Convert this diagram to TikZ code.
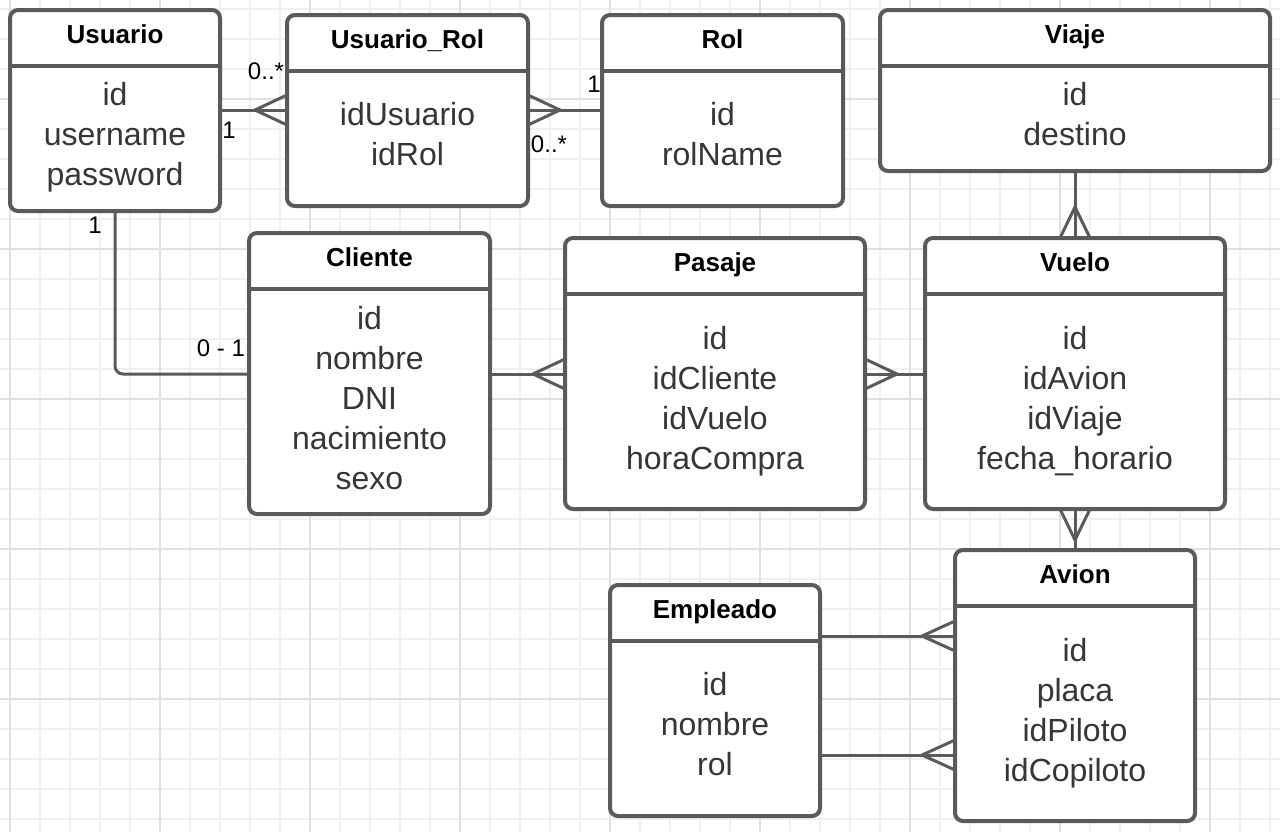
\documentclass[tikz,border=0pt]{standalone}
\usepackage{fontspec}
\setmainfont{Liberation Sans}
\usepackage{xcolor}
\usetikzlibrary{calc}

\definecolor{boxgray}{HTML}{5A5A5A}
\definecolor{txtgray}{HTML}{363636}
\definecolor{gridminor}{HTML}{F0F0F0}
\definecolor{gridmajor}{HTML}{E0E0E0}

\begin{document}
\begin{tikzpicture}[x=0.5pt,y=-0.5pt,
    entity/.style={draw=boxgray,line width=2pt,rounded corners=4pt,fill=white,anchor=north west,inner sep=0pt,outer sep=0pt},
    enttitle/.style={font=\bfseries\fontsize{13}{15}\selectfont,text=black,inner sep=0pt,anchor=base},
    attr/.style={font=\fontsize{16}{20}\selectfont,text=txtgray,anchor=base,inner sep=0pt},
    card/.style={font=\fontsize{12}{14}\selectfont,text=black,inner sep=0pt},
    rel/.style={draw=boxgray,line width=1.5pt},
    gridline/.style={draw=gridminor,line width=0.6pt},
    gridbold/.style={draw=gridmajor,line width=0.7pt}]
    \useasboundingbox (0,0) rectangle (1280,832);
    \fill[white] (0,0) rectangle (1280,832);
    % hoja cuadriculada
    \foreach \gx in {10,40,...,1270} \draw[gridline] (\gx,0) -- (\gx,832);
    \foreach \gy in {9,39,...,819} \draw[gridline] (0,\gy) -- (1280,\gy);
    \foreach \gx in {10,160,...,1210} \draw[gridbold] (\gx,0) -- (\gx,832);
    \foreach \gy in {99,249,...,699} \draw[gridbold] (0,\gy) -- (1280,\gy);
    % tablas: nombre/x/y/ancho/alto/titulo/base/campos
    \foreach \nm/\x/\y/\w/\h/\ttl/\b/\campos in {
        usuario/10/10/210/201/Usuario/95/{id,username,password},
        usurol/287/15/241/191/Usuario\_Rol/110/{idUsuario,idRol},
        rol/602/15/241/191/Rol/110/{id,rolName},
        viaje/880/10/390/161/Viaje/95/{id,destino},
        cliente/249/233/241/281/Cliente/96/{id,nombre,DNI,nacimiento,sexo},
        pasaje/565/238/300/271/Pasaje/111/{id,idCliente,idVuelo,horaCompra},
        vuelo/925/238/300/271/Vuelo/111/{id,idAvion,idViaje,fecha\_horario},
        avion/955/550/240/271/Avion/111/{id,placa,idPiloto,idCopiloto},
        empleado/610/585/210/231/Empleado/110/{id,nombre,rol}}{
        \node[entity,minimum width=\w*0.5pt,minimum height=\h*0.5pt] (\nm) at (\x,\y) {};
        \draw[draw=boxgray,line width=2pt] (\nm.west |- 0,\y+56) -- (\nm.east |- 0,\y+56);
        \node[enttitle] (\nm-t) at (\x+\w/2,\y+33) {\ttl};
        \foreach \c [count=\i] in \campos
            \node[attr] (\nm-\i) at (\x+\w/2,\y+\b+40*\i-40) {\c};
    }
    % relaciones
    \draw[rel] (usuario.east |- 0,110) -- (usurol.west |- 0,110);
    \draw[rel] (usurol.west |- 0,95) -- ++(-32,15) -- ++(32,15);
    \draw[rel] (usurol.east |- 0,110) -- (rol.west |- 0,110);
    \draw[rel] (usurol.east |- 0,95) -- ++(32,15) -- ++(-32,15);
    \draw[rel,rounded corners=4pt] (usuario.south) |- (cliente.west |- 0,374);
    \draw[rel] (cliente.east |- 0,374) -- (pasaje.west |- 0,374);
    \draw[rel] (pasaje.west |- 0,359) -- ++(-32,15) -- ++(32,15);
    \draw[rel] (pasaje.east |- 0,374) -- (vuelo.west |- 0,374);
    \draw[rel] (pasaje.east |- 0,359) -- ++(32,15) -- ++(-32,15);
    \draw[rel] (viaje.south) -- (vuelo.north);
    \draw[rel] (vuelo.north -| 1060,0) -- ++(15,-31) -- ++(15,31);
    \draw[rel] (vuelo.south) -- (avion.north);
    \draw[rel] (vuelo.south -| 1060,0) -- ++(15,31) -- ++(15,-31);
    \draw[rel] (empleado.east |- 0,636) -- (avion.west |- 0,636);
    \draw[rel] (avion.west |- 0,621) -- ++(-33,15) -- ++(33,15);
    \draw[rel] (empleado.east |- 0,755) -- (avion.west |- 0,755);
    \draw[rel] (avion.west |- 0,740) -- ++(-33,15) -- ++(33,15);
    % cardinalidades
    \node[card] (card-ur1) at (266,71) {0..*};
    \node[card] (card-ur2) at (229,130) {1};
    \node[card] (card-rol1) at (594,84) {1};
    \node[card] (card-rol2) at (549,144) {0..*};
    \node[card] (card-cli1) at (95,225) {1};
    \node[card] (card-cli2) at (221,348) {0 - 1};
\end{tikzpicture}
\end{document}
